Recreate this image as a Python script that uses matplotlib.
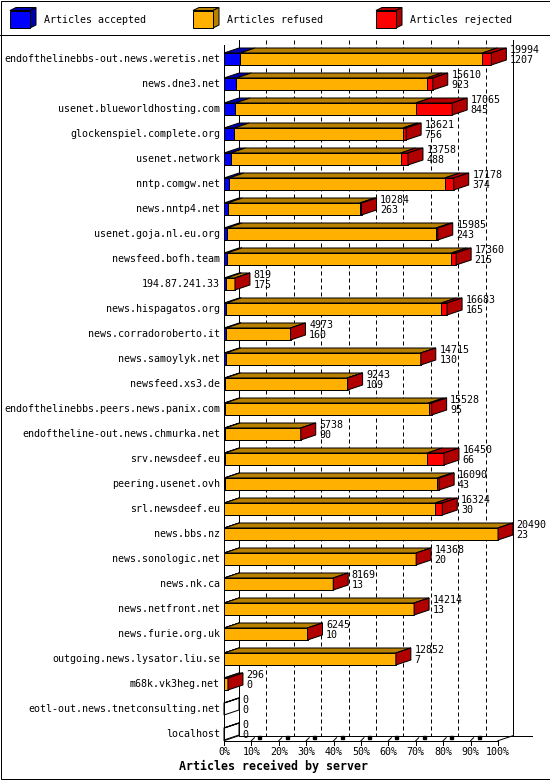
import numpy as np
import matplotlib; matplotlib.use("Agg")
import matplotlib.pyplot as plt
from matplotlib.patches import Polygon, Rectangle

plt.rcParams["font.family"] = ["DejaVu Sans Mono"]

servers = ["endofthelinebbs-out.news.weretis.net", "news.dne3.net", "usenet.blueworldhosting.com",
           "glockenspiel.complete.org", "usenet.network", "nntp.comgw.net", "news.nntp4.net",
           "usenet.goja.nl.eu.org", "newsfeed.bofh.team", "194.87.241.33", "news.hispagatos.org",
           "news.corradoroberto.it", "news.samoylyk.net", "newsfeed.xs3.de",
           "endofthelinebbs.peers.news.panix.com", "endoftheline-out.news.chmurka.net",
           "srv.newsdeef.eu", "peering.usenet.ovh", "srl.newsdeef.eu", "news.bbs.nz",
           "news.sonologic.net", "news.nk.ca", "news.netfront.net", "news.furie.org.uk",
           "outgoing.news.lysator.liu.se", "m68k.vk3heg.net", "eotl-out.news.tnetconsulting.net",
           "localhost"]
total = [19994, 15610, 17065, 13621, 13758, 17178, 10284, 15985, 17360, 819, 16683, 4973, 14715,
         9243, 15528, 5738, 16450, 16090, 16324, 20490, 14368, 8169, 14214, 6245, 12852, 296, 0, 0]
accepted = [1207, 923, 845, 756, 488, 374, 263, 243, 215, 175, 165, 160, 130, 109, 95, 90, 66, 43,
            30, 23, 20, 13, 13, 10, 7, 0, 0, 0]
# rejected counts are not printed, estimated from the red segments
rejected = [680, 450, 2730, 250, 545, 675, 130, 130, 360, 0, 435, 0, 0, 20, 225, 0, 1250, 140,
            520, 0, 0, 0, 0, 0, 0, 0, 0, 0]
legend_labels = ["Articles accepted", "Articles refused", "Articles rejected"]
xlabel = "Articles received by server"
ticks = [0, 10, 20, 30, 40, 50, 60, 70, 80, 90, 100]

front = ["#0000FF", "#FFB000", "#FF0000"]
dark = ["#0000B0", "#B88000", "#B00000"]

# layout in pixels
W, H = 550, 780
X0, XW = 224, 274            # front 0% and width of 100%
ROW0, ROWH = 59, 25
DXP, DYP, BH = 15, 5, 12
LW = 0.72

tot = np.array(total, float); acc = np.array(accepted, float); rej = np.array(rejected, float)
ref = tot - acc - rej
maxv = tot.max()
n = len(servers)

fig = plt.figure(figsize=(W / 100, H / 100), dpi=100)
ax = fig.add_axes([0, 0, 1, 1])
ax.set_xlim(-X0 / XW * 100, (W - X0) / XW * 100)
ax.set_ylim((H - ROW0) / ROWH, -ROW0 / ROWH)
ax.axis("off")

DX = DXP / XW * 100
DY = DYP / ROWH
HB = BH / 2 / ROWH
px = 100 / XW                # one pixel in x data units
py = 1 / ROWH                # one pixel in y data units

top = -HB - DY - 8 * py
ff = (n - 1) + HB + 0.7 * py   # floor front
fb = ff - DY                   # floor back

# grid + frame
for p in ticks[1:-1]:
    ax.plot([p + DX, p + DX], [top, fb], color="black", lw=LW, ls=(0, (4, 3)), zorder=1)
ax.plot([DX, DX], [top, fb], color="black", lw=LW, zorder=1)
ax.plot([100 + DX, 100 + DX], [top, fb], color="black", lw=LW, zorder=1)
ax.plot([0, 0], [top + DY, ff], color="black", lw=LW, zorder=1)
ax.plot([DX, 100 + DX + 19 * px], [fb, fb], color="black", lw=LW, zorder=1)
ax.plot([0, 100], [ff, ff], color="black", lw=LW, zorder=1)
ax.plot([100, 100 + DX], [ff, fb], color="black", lw=LW, zorder=1)
ax.plot([0, DX], [ff, fb], color="black", lw=LW, zorder=1)
for p in ticks:
    ax.plot([p, p], [ff, ff + 4 * py], color="black", lw=LW, zorder=1)
    ax.text(p, ff + 11 * py, f"{p}%", ha="center", va="center", fontsize=7.2)
    if 0 < p < 100:
        ax.plot([p, p + 3 * px], [ff, ff - 3 * py], color="black", lw=LW, zorder=1)
        ax.add_patch(Rectangle((p + 7 * px, ff - 4.5 * py), 3 * px, 3 * py, color="black", zorder=1))

# bars
for i in range(n):
    vals = np.array([acc[i], ref[i], rej[i]]) / maxv * 100
    edges = np.concatenate([[0], np.cumsum(vals)])
    y0, y1 = i - HB, i + HB
    empty = total[i] == 0
    for k in range(3):
        a, b = edges[k], edges[k + 1]
        ax.add_patch(Polygon([(a, y0), (b, y0), (b + DX, y0 - DY), (a + DX, y0 - DY)],
                             facecolor=dark[k], edgecolor="black", lw=LW, zorder=3))
        ax.add_patch(Rectangle((a, y0), b - a, y1 - y0, facecolor=front[k],
                               edgecolor="black", lw=LW, zorder=3))
    e = edges[-1]
    ax.add_patch(Polygon([(e, y0), (e + DX, y0 - DY), (e + DX, y1 - DY), (e, y1)],
                         facecolor="none" if empty else dark[2], edgecolor="black", lw=LW, zorder=3))
    ax.text(-4 * px, i, servers[i], ha="right", va="center", fontsize=7.2)
    ax.text(e + DX + 3.6 * px, i - 9 * py, f"{total[i]}", ha="left", va="center", fontsize=7.2, zorder=4)
    ax.text(e + DX + 3.6 * px, i + 1 * py, f"{accepted[i]}", ha="left", va="center", fontsize=7.2, zorder=4)

fig.text(273.6 / W, 1 - 766.7 / H, xlabel, ha="center", va="center", fontsize=8.4, fontweight="bold")

# legend strip and outer frame
lax = fig.add_axes([0, 0, 1, 1], facecolor="none")
lax.set_xlim(0, W); lax.set_ylim(H, 0); lax.axis("off")
lax.add_patch(Rectangle((0.5, 0.5), W - 1, H - 1.5, fill=False, edgecolor="black", lw=LW))
lax.plot([0, W], [35, 35], color="black", lw=LW)
for k, lbl in enumerate(legend_labels):
    bx = 10 + 183 * k
    lax.add_patch(Polygon([(bx, 10.5), (bx + 20, 10.5), (bx + 26, 7.5), (bx + 6, 7.5)],
                          facecolor=dark[k], edgecolor="black", lw=LW))
    lax.add_patch(Polygon([(bx + 20, 10.5), (bx + 26, 7.5), (bx + 26, 25), (bx + 20, 28)],
                          facecolor=dark[k], edgecolor="black", lw=LW))
    lax.add_patch(Rectangle((bx, 10.5), 20, 17.5, facecolor=front[k], edgecolor="black", lw=LW))
    lax.text(bx + 34, 20, lbl, ha="left", va="center", fontsize=7.2)

fig.savefig("out.png", dpi=100)
